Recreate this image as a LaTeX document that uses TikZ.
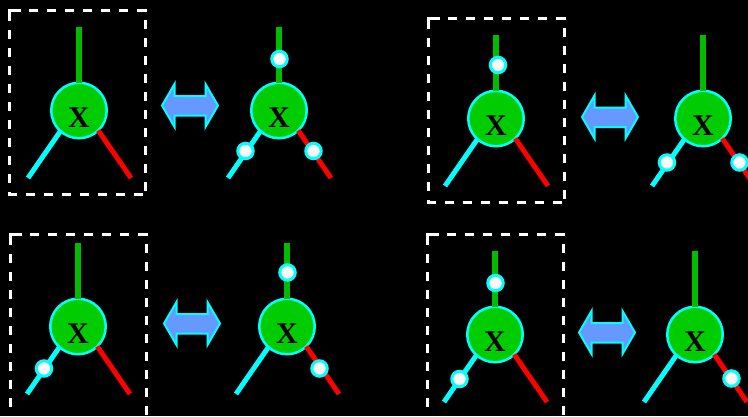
\documentclass[tikz,border=0pt]{standalone}
\usepackage{fontspec}
\setmainfont{Liberation Serif}
\definecolor{gategreen}{RGB}{0,204,0}
\definecolor{leggreen}{RGB}{0,187,0}
\definecolor{arrowblue}{RGB}{102,153,255}
\definecolor{dotwhite}{RGB}{248,248,248}
\definecolor{edgecyan}{RGB}{0,255,255}
\definecolor{legred}{RGB}{255,0,0}
\tikzset{
  gatecircle/.style={circle,draw=edgecyan,fill=gategreen,line width=2.5pt,minimum size=55.5pt,inner sep=0pt,outer sep=0pt},
  gatelabel/.style={text=black,inner sep=0pt,font=\fontsize{30}{30}\selectfont\bfseries},
  legtop/.style={draw=leggreen,line width=5.5pt},
  legleft/.style={draw=edgecyan,line width=5pt},
  legright/.style={draw=legred,line width=5pt},
  tensordot/.style={circle,draw=edgecyan,fill=dotwhite,line width=3pt,minimum size=15.5pt,inner sep=0pt,outer sep=0pt},
  dashbox/.style={draw=white,line width=3pt,dash pattern=on 9.3pt off 8.7pt,dash phase=16.5pt},
  boxcorner/.style={draw=white,line width=3pt},
  dblarrow/.style={draw=edgecyan,fill=arrowblue,line width=2pt,line join=miter}
}
\newcommand{\gatefig}[3]{%
  \node[gatecircle] (#1) at (#2,#3+0.5) {};
  \node[gatelabel] (#1x) at (#2,#3+8) {X};
  \coordinate (#1t) at (#2,#3-83);
  \coordinate (#1l) at (#2-51,#3+68);
  \coordinate (#1r) at (#2+52,#3+68);
  \draw[legtop] (#1.north) -- (#1t);
  \draw[legleft] (#1.228) -- (#1l);
  \draw[legright] (#1.-46) -- (#1r);
}
\newcommand{\dblarrowat}[3]{%
  \filldraw[dblarrow] (#2-28,#3) -- (#2-15.5,#3-21.5) -- (#2-15.5,#3-9.5) -- (#2+15.5,#3-9.5) -- (#2+15.5,#3-21.5)
    -- (#2+28,#3) -- (#2+15.5,#3+21.5) -- (#2+15.5,#3+10) -- (#2-15.5,#3+10) -- (#2-15.5,#3+21.5) -- cycle;
}
\newcommand{\dashboxat}[4]{%
  \draw[dashbox] (#1,#2) -- (#3,#2) -- (#3,#4);
  \draw[dashbox] (#1,#2) -- (#1,#4) -- (#3,#4);
  \draw[boxcorner] (#1,#2+10) -- (#1,#2) -- (#1+11,#2);
}
\begin{document}
\begin{tikzpicture}[x=1pt,y=-1pt]
\useasboundingbox (0,0) rectangle (748,416);
\clip (0,0) rectangle (748,416);
\fill[black] (0,0) rectangle (748,416);
% dashed boxes
\dashboxat{9.5}{10.5}{145.5}{194}
\dashboxat{428.5}{18.5}{564.5}{202}
\dashboxat{10.5}{234.5}{146.5}{420}
\dashboxat{427.5}{234.5}{563.5}{420}
% arrows
\dblarrowat{a1}{190}{105.5}
\dblarrowat{a2}{610}{117}
\dblarrowat{a3}{192}{323.5}
\dblarrowat{a4}{607}{332.5}
% gates
\gatefig{A}{79}{110}
\gatefig{B}{279}{110}
\node[tensordot] (Bd1) at (279.5,59) {};
\node[tensordot] (Bd2) at (245.5,151) {};
\node[tensordot] (Bd3) at (313.5,151) {};
\gatefig{C}{496}{118}
\node[tensordot] (Cd1) at (498,65) {};
\gatefig{D}{703}{118}
\node[tensordot] (Dd2) at (667,162.5) {};
\node[tensordot] (Dd3) at (739.5,162.5) {};
\gatefig{E}{78}{326}
\node[tensordot] (Ed2) at (44,368.5) {};
\gatefig{F}{287}{326}
\node[tensordot] (Fd1) at (287.5,272.5) {};
\node[tensordot] (Fd3) at (319.5,368.5) {};
\gatefig{G}{495}{334}
\node[tensordot] (Gd1) at (495.5,283) {};
\node[tensordot] (Gd2) at (459.5,379) {};
\gatefig{H}{695}{334}
\node[tensordot] (Hd3) at (731.5,378.5) {};
\end{tikzpicture}
\end{document}
